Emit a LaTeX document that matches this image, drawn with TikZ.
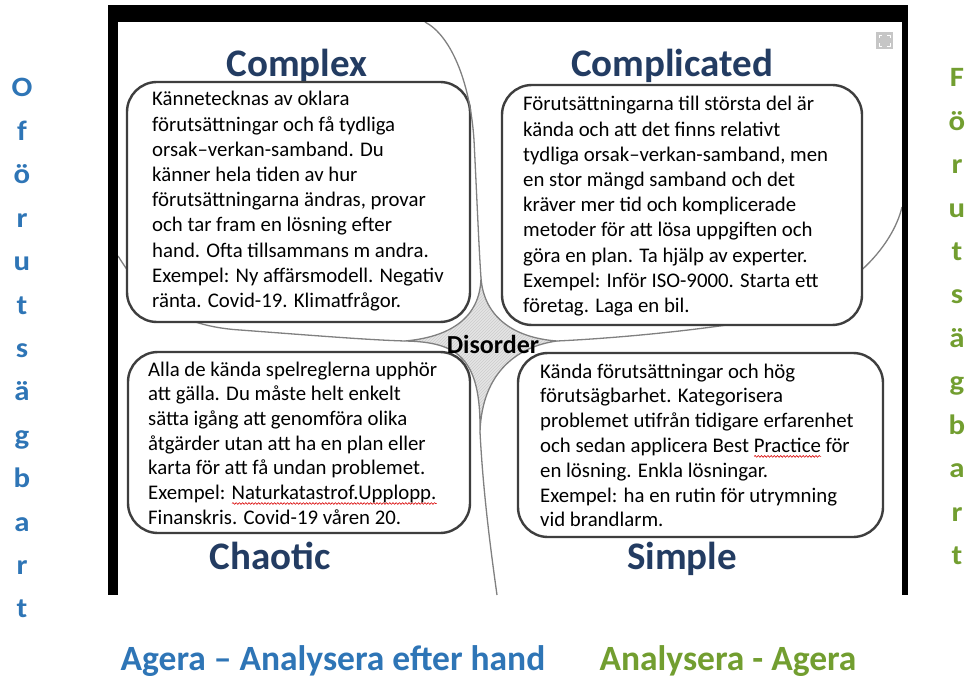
\documentclass[tikz,border=0pt]{standalone}
\usepackage{fontspec}
\setmainfont{Carlito}
\usetikzlibrary{patterns,decorations.pathmorphing}
\definecolor{navy}{RGB}{35,60,98}
\definecolor{blueL}{RGB}{46,117,182}
\definecolor{greenR}{RGB}{114,158,48}
\definecolor{boxline}{RGB}{62,62,62}
\definecolor{curvegray}{RGB}{128,128,128}
\newsavebox\sperrbox
\newlength\sperrw
\newcommand\sperr[1]{\sbox\sperrbox{#1}\setlength\sperrw{\wd\sperrbox}%
  \rlap{\tikz[x=1pt,y=1pt,baseline=0pt]\draw[red!85!black, line width=0.6pt, decorate,
    decoration={snake, amplitude=0.9pt, segment length=3.2pt}] (0,-4) -- (\sperrw,-4);}%
  \usebox\sperrbox}
\newcommand\boxlines[2]{\vtop{\baselineskip=#1\lineskiplimit=-20pt\lineskip=0pt\halign{##\hfil\cr #2\crcr}}}
\tikzset{
  quad/.style={draw=boxline, line width=2.4pt, fill=white, rounded corners=30pt},
  body/.style={anchor=base west, inner sep=0pt, font=\fontsize{20.8pt}{25pt}\selectfont},
  title/.style={anchor=base, inner sep=0pt, text=navy, font=\fontsize{39pt}{47pt}\selectfont\bfseries},
  curve/.style={draw=curvegray, line width=1.3pt},
  sideL/.style={anchor=base, inner sep=0pt, xscale=1.1, text=blueL, font=\fontsize{28pt}{32pt}\selectfont\bfseries},
  sideR/.style={anchor=base, inner sep=0pt, xscale=1.1, text=greenR, font=\fontsize{28pt}{32pt}\selectfont\bfseries},
  foot/.style={anchor=base, inner sep=0pt, font=\fontsize{35.5pt}{42pt}\selectfont\bfseries},
  framebar/.style={fill=black, draw=none}
}
\begin{document}
\begin{tikzpicture}[x=1pt, y=-1pt, line join=round]
\useasboundingbox[fill=white] (0,0) rectangle (967,679);

% titles
\node[title] (tcomplex) at (297,77) {Complex};
\node[title] (tcomplicated) at (672,77) {Complicated};
\node[title] (tchaotic) at (270,569) {Chaotic};
\node[title] (tsimple) at (682,569) {Simple};

% horizontal boundary curves (under the boxes)
\draw[curve] (118,256) .. controls (135,282) and (160,325) .. (240,330)
  .. controls (320,336) and (370,340) .. (405,341);
\draw[curve] (902,207) .. controls (893,245) and (850,300) .. (760,320)
  .. controls (680,333) and (600,339) .. (557,341);

% disorder star
\path[curve, preaction={fill=gray!20}, pattern=north east lines, pattern color=gray!40]
  (481,278) .. controls (480,318) and (450,337) .. (405,341)
  .. controls (458,342) and (481,358) .. (480,432)
  .. controls (482,370) and (520,346) .. (557,341)
  .. controls (515,338) and (484,318) .. (481,278) -- cycle;

% boxes
\draw[quad] (127,82) rectangle (470,322);
\draw[quad] (502,85) rectangle (862,325);
\draw[quad] (128,352) rectangle (470,533);
\draw[quad] (518,353) rectangle (883,537);

\node[body] (bcomplex) at (152,106) {\boxlines{25.2pt}{%
Kännetecknas av oklara\cr
förutsättningar och få tydliga\cr
orsak–verkan-samband. Du\cr
känner hela tiden av hur\cr
förutsättningarna ändras, provar\cr
och tar fram en lösning efter\cr
hand. Ofta tillsammans m andra.\cr
Exempel: Ny affärsmodell. Negativ\cr
ränta. Covid-19. Klimatfrågor.}};

\node[body] (bcomplicated) at (523,111) {\boxlines{25.2pt}{%
Förutsättningarna till största del är\cr
kända och att det finns relativt\cr
tydliga orsak–verkan-samband, men\cr
en stor mängd samband och det\cr
kräver mer tid och komplicerade\cr
metoder för att lösa uppgiften och\cr
göra en plan. Ta hjälp av experter.\cr
Exempel: Inför ISO-9000. Starta ett\cr
företag. Laga en bil.}};

\node[body] (bchaotic) at (148,376) {\boxlines{24.7pt}{%
Alla de kända spelreglerna upphör\cr
att gälla. Du måste helt enkelt\cr
sätta igång att genomföra olika\cr
åtgärder utan att ha en plan eller\cr
karta för att få undan problemet.\cr
Exempel: \sperr{Naturkatastrof.Upplopp.}\cr
Finanskris. Covid-19 våren 20.}};

\node[body] (bsimple) at (540,378) {\boxlines{24.8pt}{%
Kända förutsättningar och hög\cr
förutsägbarhet. Kategorisera\cr
problemet utifrån tidigare erfarenhet\cr
och sedan applicera Best \sperr{Practice} för\cr
en lösning. Enkla lösningar.\cr
Exempel: ha en rutin för utrymning\cr
vid brandlarm.}};

% vertical boundary curves
\draw[curve] (425,22) .. controls (450,35) and (470,80) .. (474,140)
  .. controls (477,200) and (479,250) .. (481,278);
\draw[curve] (480,432) .. controls (483,490) and (490,545) .. (497,595);

\node[anchor=base, inner sep=0pt, font=\fontsize{26pt}{30pt}\selectfont\bfseries] (disorder) at (493,353) {Disorder};

% frame
\fill[framebar] (108,5) rectangle (908,22);
\fill[framebar] (108,5) rectangle (118,595);
\fill[framebar] (902,5) rectangle (908,595);

% small icon
\fill[gray!45] (876,32) rectangle (893,49);
\draw[white, line width=0.9pt] (879,38) -- (879,35) -- (882,35)
  (887,35) -- (890,35) -- (890,38) (890,43) -- (890,46) -- (887,46)
  (882,46) -- (879,46) -- (879,43);

% side labels
\foreach \ch [count=\i] in {O,f,ö,r,u,t,s,ä,g,b,a,r,t}
  \node[sideL] (left\i) at (22,{97+43.4*(\i-1)}) {\ch};
\foreach \ch [count=\i] in {F,ö,r,u,t,s,ä,g,b,a,r,t}
  \node[sideR] (right\i) at (957,{87+43.4*(\i-1)}) {\ch};

% footer
\node[foot, text=blueL] (footL) at (333,670) {Agera – Analysera efter hand};
\node[foot, text=greenR] (footR) at (728,670) {Analysera - Agera};
\end{tikzpicture}
\end{document}
